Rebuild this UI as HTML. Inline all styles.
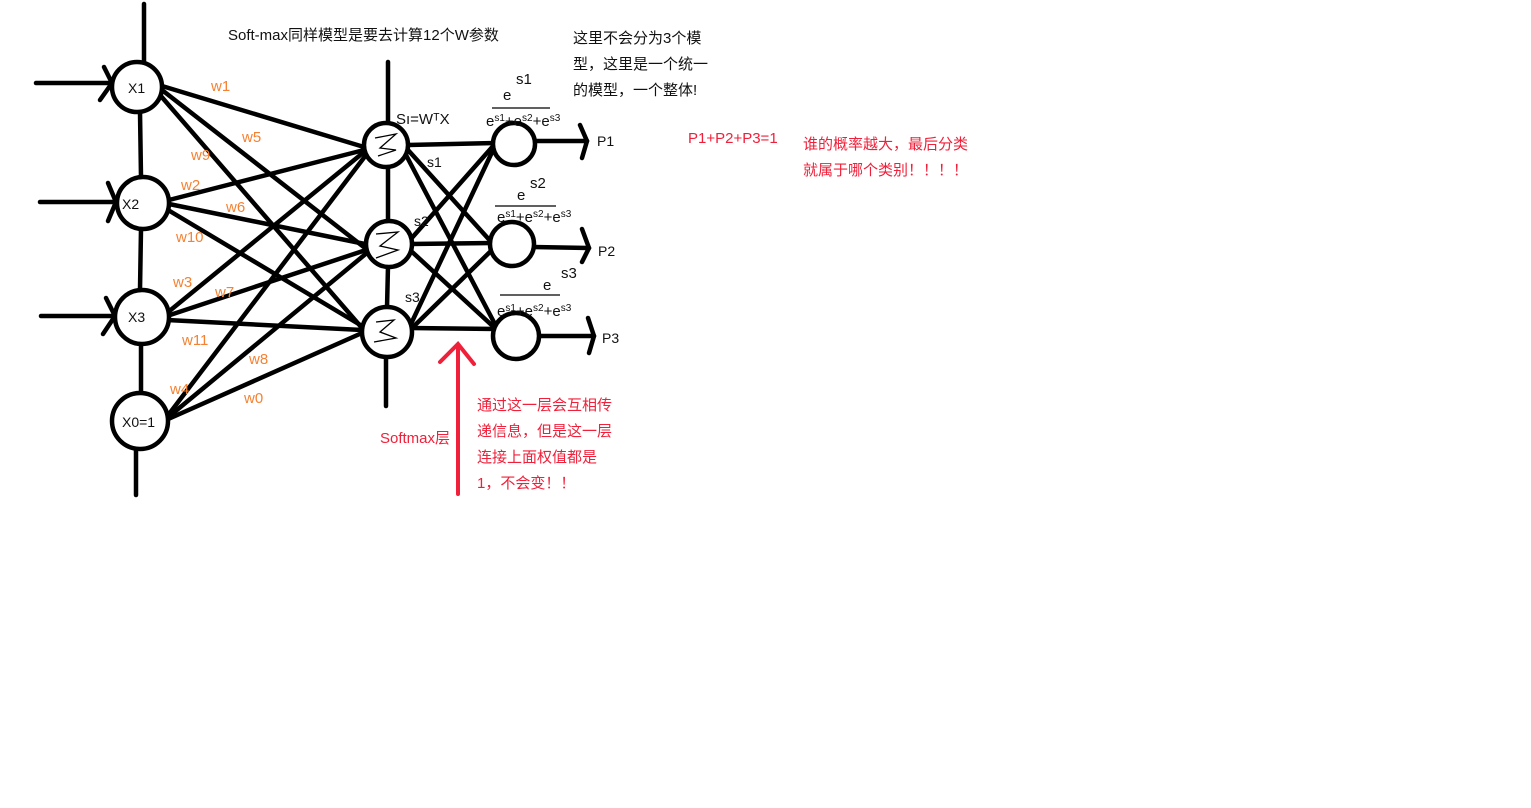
<!DOCTYPE html>
<html><head><meta charset="utf-8"><style>
body{margin:0;width:1531px;height:808px;background:#fff;overflow:hidden}
svg{display:block}
text{font-family:"Liberation Sans","Microsoft YaHei","Noto Sans CJK SC",sans-serif;font-size:15px}
.o{fill:#f58232}.r{fill:#f0203a}.k{fill:#111}
.n{font-size:14px}
</style></head><body>
<svg width="1531" height="808" xmlns="http://www.w3.org/2000/svg">
<g stroke="#000" stroke-width="4.5" fill="none" stroke-linecap="round">
<line x1="144" y1="4" x2="144" y2="62"/>
<line x1="140" y1="112" x2="141" y2="177"/>
<line x1="141" y1="229" x2="140" y2="290"/>
<line x1="141" y1="343" x2="141" y2="393"/>
<line x1="136" y1="449" x2="136" y2="495"/>
<line x1="36" y1="83" x2="110" y2="83"/><path d="M104 67 L112 83 L100 100"/>
<line x1="40" y1="202" x2="116" y2="202"/><path d="M108 183 L116 202 L108 221"/>
<line x1="41" y1="316" x2="115" y2="316"/><path d="M106 298 L115 316 L103 334"/>
<line x1="162" y1="86" x2="364" y2="147"/>
<line x1="162" y1="90" x2="365" y2="248"/>
<line x1="160" y1="95" x2="362" y2="328"/>
<line x1="169" y1="200" x2="364" y2="150"/>
<line x1="169" y1="204" x2="365" y2="244"/>
<line x1="168" y1="210" x2="362" y2="326"/>
<line x1="167" y1="313" x2="364" y2="152"/>
<line x1="167" y1="316" x2="366" y2="250"/>
<line x1="167" y1="320" x2="362" y2="330"/>
<line x1="166" y1="418" x2="366" y2="155"/>
<line x1="166" y1="419" x2="368" y2="252"/>
<line x1="166" y1="420" x2="362" y2="333"/>
<line x1="388" y1="62" x2="388" y2="125"/>
<line x1="388" y1="168" x2="388" y2="223"/>
<line x1="388" y1="266" x2="387" y2="308"/>
<line x1="386" y1="356" x2="386" y2="406"/>
<line x1="408" y1="145" x2="495" y2="143"/>
<line x1="408" y1="150" x2="494" y2="245"/>
<line x1="406" y1="155" x2="497" y2="328"/>
<line x1="410" y1="240" x2="494" y2="145"/>
<line x1="410" y1="244" x2="493" y2="243"/>
<line x1="410" y1="250" x2="497" y2="330"/>
<line x1="410" y1="326" x2="494" y2="148"/>
<line x1="410" y1="330" x2="494" y2="248"/>
<line x1="410" y1="328" x2="497" y2="329"/>
<line x1="534" y1="141" x2="587" y2="141"/><path d="M580 125 L587 141 L582 158"/>
<line x1="533" y1="247" x2="589" y2="248"/><path d="M582 229 L589 248 L582 262"/>
<line x1="537" y1="336" x2="594" y2="336"/><path d="M588 318 L594 336 L589 353"/>
<circle cx="137" cy="87" r="25" fill="#fff"/>
<circle cx="143" cy="203" r="26" fill="#fff"/>
<circle cx="142" cy="317" r="27" fill="#fff"/>
<circle cx="140" cy="421" r="28" fill="#fff"/>
<circle cx="386" cy="145" r="22" fill="#fff"/>
<circle cx="389" cy="244" r="23" fill="#fff"/>
<circle cx="387" cy="332" r="25" fill="#fff"/>
<circle cx="514" cy="144" r="21" fill="#fff"/>
<circle cx="512" cy="244" r="22" fill="#fff"/>
<circle cx="516" cy="336" r="23" fill="#fff"/>
</g>
<g stroke="#000" stroke-width="1.3" fill="none">
<path d="M375 138 L396 134 L380 148 L396 150 L378 156"/>
<path d="M376 234 L398 232 L380 246 L398 250 L376 258"/>
<path d="M376 322 L394 320 L380 332 L396 338 L374 342"/>
<line x1="492" y1="108" x2="550" y2="108"/>
<line x1="495" y1="206" x2="556" y2="206"/>
<line x1="500" y1="295" x2="560" y2="295"/>
</g>
<g stroke="#f0203a" stroke-width="4" fill="none" stroke-linecap="round">
<line x1="458" y1="494" x2="458" y2="346"/><path d="M440 362 L458 344 L474 364"/>
</g>
<text x="128" y="93" class="k n">X1</text>
<text x="122" y="209" class="k n">X2</text>
<text x="128" y="322" class="k n">X3</text>
<text x="122" y="427" class="k n">X0=1</text>
<text x="211" y="91" class="o">w1</text>
<text x="242" y="142" class="o">w5</text>
<text x="191" y="160" class="o">w9</text>
<text x="181" y="190" class="o">w2</text>
<text x="226" y="212" class="o">w6</text>
<text x="176" y="242" class="o">w10</text>
<text x="173" y="287" class="o">w3</text>
<text x="215" y="297" class="o">w7</text>
<text x="182" y="345" class="o">w11</text>
<text x="249" y="364" class="o">w8</text>
<text x="170" y="394" class="o">w4</text>
<text x="244" y="403" class="o">w0</text>
<text x="427" y="167" class="k n">s1</text>
<text x="414" y="226" class="k n">s2</text>
<text x="405" y="302" class="k n">s3</text>
<text x="396" y="124" class="k" font-size="15">Sı=WᵀX</text>
<text x="503" y="100" class="k" font-size="16">e</text><text x="516" y="84" class="k" font-size="11">s1</text>
<text x="486" y="126" class="k" font-size="13">e<tspan font-size="10" dy="-5">s1</tspan><tspan dy="5">+e</tspan><tspan font-size="10" dy="-5">s2</tspan><tspan dy="5">+e</tspan><tspan font-size="10" dy="-5">s3</tspan></text>
<text x="517" y="200" class="k" font-size="15">e</text><text x="530" y="188" class="k" font-size="11">s2</text>
<text x="497" y="222" class="k" font-size="13">e<tspan font-size="10" dy="-5">s1</tspan><tspan dy="5">+e</tspan><tspan font-size="10" dy="-5">s2</tspan><tspan dy="5">+e</tspan><tspan font-size="10" dy="-5">s3</tspan></text>
<text x="543" y="290" class="k" font-size="15">e</text><text x="561" y="278" class="k" font-size="11">s3</text>
<text x="497" y="316" class="k" font-size="13">e<tspan font-size="10" dy="-5">s1</tspan><tspan dy="5">+e</tspan><tspan font-size="10" dy="-5">s2</tspan><tspan dy="5">+e</tspan><tspan font-size="10" dy="-5">s3</tspan></text>
<text x="597" y="146" class="k n">P1</text>
<text x="598" y="256" class="k n">P2</text>
<text x="602" y="343" class="k n">P3</text>
<text x="228" y="40" class="k">Soft-max同样模型是要去计算12个W参数</text>
<text x="573" y="43" class="k">这里不会分为3个模</text>
<text x="573" y="69" class="k">型，这里是一个统一</text>
<text x="573" y="95" class="k">的模型，一个整体!</text>
<text x="688" y="143" class="r">P1+P2+P3=1</text>
<text x="803" y="149" class="r">谁的概率越大，最后分类</text>
<text x="803" y="175" class="r">就属于哪个类别！！！！</text>
<text x="380" y="443" class="r">Softmax层</text>
<text x="477" y="410" class="r">通过这一层会互相传</text>
<text x="477" y="436" class="r">递信息，但是这一层</text>
<text x="477" y="462" class="r">连接上面权值都是</text>
<text x="477" y="488" class="r">1，不会变！！</text>
</svg>
</body></html>
